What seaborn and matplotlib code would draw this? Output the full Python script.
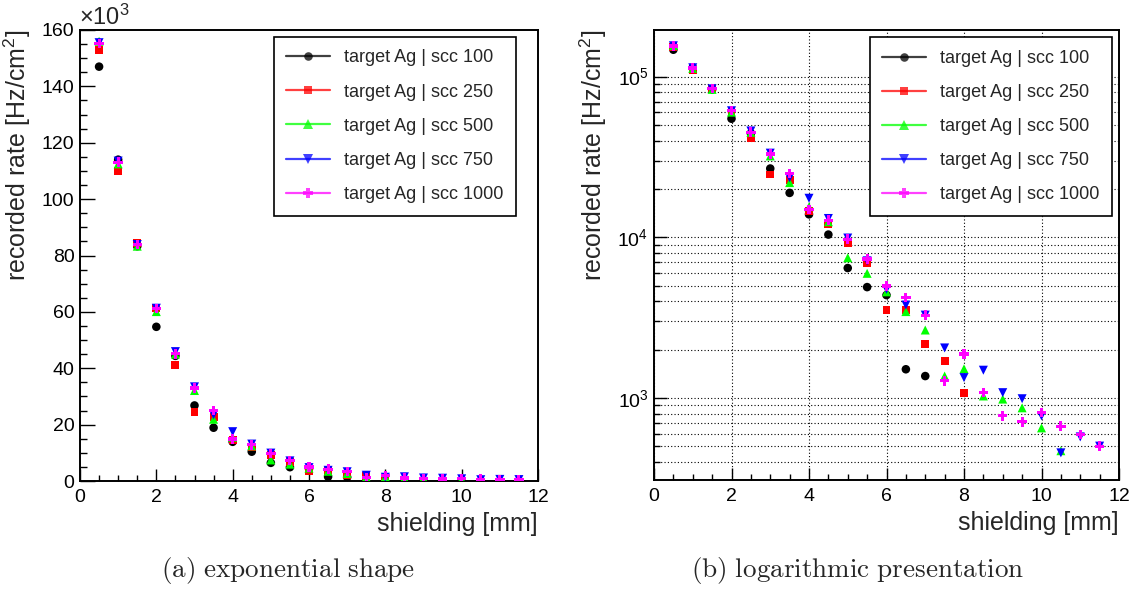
import numpy as np
import pandas as pd
import matplotlib
matplotlib.use("Agg")
import matplotlib.pyplot as plt
import matplotlib.ticker as mticker
from matplotlib.lines import Line2D
import seaborn as sns

# shielding thickness [mm]
shielding_mm = [0.5, 1.0, 1.5, 2.0, 2.5, 3.0, 3.5, 4.0, 4.5, 5.0, 5.5, 6.0,
                6.5, 7.0, 7.5, 8.0, 8.5, 9.0, 9.5, 10.0, 10.5, 11.0, 11.5]

# recorded rate [Hz/cm^2] per scc setting (series end where the rate was no longer measured)
rate_scc100 = [147000, 114000, 83300, 54700, 44400, 26800, 18900, 13900, 10400,
               6440, 4900, 4370, 1510, 1370]
rate_scc250 = [153000, 110000, 84300, 61300, 41200, 24600, 22700, 14600, 12100,
               9250, 6890, 3530, 3530, 2160, 1690, 1080]
rate_scc500 = [156000, 112500, 83300, 60100, 45000, 32100, 21900, 15500, 12500,
               7460, 5970, 4580, 3450, 2650, 1370, 1520, 1030, 985, 869, 652, 470]
rate_scc750 = [155500, 113500, 83900, 61300, 45900, 33400, 23500, 17500, 13100,
               9900, 7140, 4750, 3790, 3280, 2050, 1340, 1490, 1080, 990, 774,
               456, 573, 502]
rate_scc1000 = [155200, 113100, 84000, 61300, 45100, 33000, 25000, 14900, 12800,
                9750, 7330, 4980, 4210, 3280, 1280, 1880, 1080, 774, 711, 813,
                668, 593, 502]

series_labels = ["target Ag | scc 100", "target Ag | scc 250", "target Ag | scc 500",
                 "target Ag | scc 750", "target Ag | scc 1000"]
series_rates = [rate_scc100, rate_scc250, rate_scc500, rate_scc750, rate_scc1000]
series_colors = ["#000000", "#ff0000", "#00ff00", "#0000ff", "#ff00ff"]
series_markers = ["o", "s", "^", "v", "P"]
series_sizes = [38, 32, 42, 42, 46]

sns.set_style("white")
plt.rcParams["font.family"] = ["Liberation Sans", "DejaVu Sans"]
plt.rcParams["mathtext.default"] = "regular"

W, H = 1133, 590
fig = plt.figure(figsize=(W / 100, H / 100), dpi=100)
fig.patch.set_facecolor("white")


def px_axes(x0, y0, x1, y1):
    return fig.add_axes([x0 / W, 1 - y1 / H, (x1 - x0) / W, (y1 - y0) / H])


ax_lin = px_axes(80, 30, 538, 481)
ax_log = px_axes(654, 30, 1119, 480)

frames = []
for lab, rates in zip(series_labels, series_rates):
    frames.append(pd.DataFrame({"shielding": shielding_mm[:len(rates)],
                                "rate": rates, "series": lab}))
df = pd.concat(frames, ignore_index=True)


def draw_points(ax, scale=1.0):
    for lab, col, mk, sz in zip(series_labels, series_colors, series_markers, series_sizes):
        sub = df[df["series"] == lab]
        sns.scatterplot(x=sub["shielding"], y=sub["rate"] / scale, ax=ax, color=col,
                        marker=mk, s=sz, linewidth=0, edgecolor="none", legend=False,
                        zorder=3)


def add_legend(ax, anchor):
    handles = [Line2D([0], [0], color=c, lw=1.6, alpha=0.75, marker=m,
                      markersize=np.sqrt(s), markerfacecolor=c, markeredgecolor=c,
                      markeredgewidth=0)
               for c, m, s in zip(series_colors, series_markers, series_sizes)]
    leg = ax.legend(handles, series_labels, loc="upper right", bbox_to_anchor=anchor,
                    fontsize=13, frameon=True, fancybox=False, framealpha=1,
                    edgecolor="black", handlelength=2.4, handletextpad=0.8,
                    labelspacing=0.95, borderpad=0.7, borderaxespad=0)
    leg.get_frame().set_linewidth(1.2)
    return leg


def style_axes(ax, ylen_major, ylen_minor):
    for sp in ax.spines.values():
        sp.set_color("black")
        sp.set_linewidth(1.4)
    ax.tick_params(axis="both", which="both", direction="in", top=False, right=False,
                   left=True, bottom=True, color="black", width=1.0, labelsize=14,
                   labelcolor="black")
    ax.tick_params(axis="x", which="major", length=8.6, pad=6)
    ax.tick_params(axis="x", which="minor", length=4.3)
    ax.tick_params(axis="y", which="major", length=ylen_major, pad=4)
    ax.tick_params(axis="y", which="minor", length=ylen_minor)
    ax.set_xlim(0, 12)
    ax.xaxis.set_major_locator(mticker.MultipleLocator(2))
    ax.xaxis.set_minor_locator(mticker.MultipleLocator(0.5))
    ax.set_xlabel("shielding [mm]", loc="right", fontsize=18, labelpad=4)
    ax.set_ylabel("recorded rate [Hz/cm$^{2}$]", loc="top", fontsize=18, labelpad=6)


# (a) linear axis
draw_points(ax_lin, scale=1000.0)
style_axes(ax_lin, 10.8, 5.0)
ax_lin.set_ylim(0, 160)
ax_lin.yaxis.set_major_locator(mticker.MultipleLocator(20))
ax_lin.yaxis.set_minor_locator(mticker.MultipleLocator(5))
ax_lin.text(-0.002, 1.0, r"$\times10^{3}$", transform=ax_lin.transAxes, fontsize=17,
            ha="left", va="bottom")
add_legend(ax_lin, (0.952, 0.985))

# (b) logarithmic axis
draw_points(ax_log)
ax_log.set_yscale("log")
style_axes(ax_log, 9.4, 4.5)
ax_log.set_ylim(309, 195000)
ax_log.yaxis.set_major_locator(mticker.LogLocator(base=10))
ax_log.yaxis.set_minor_locator(mticker.LogLocator(base=10, subs=np.arange(2, 10)))
ax_log.yaxis.set_major_formatter(
    mticker.FuncFormatter(lambda v, p: r"$10^{%d}$" % round(np.log10(v))))
ax_log.yaxis.set_minor_formatter(mticker.NullFormatter())
ax_log.grid(True, which="both", axis="y", color="black", ls=(0, (1, 2)), lw=0.8)
ax_log.grid(True, which="major", axis="x", color="black", ls=(0, (1, 2)), lw=0.8)
ax_log.set_axisbelow(True)
add_legend(ax_log, (0.985, 0.984))

# sub-figure captions
fig.text(288 / W, 1 - 571 / H, r"$\mathrm{(a)\ exponential\ shape}$",
         math_fontfamily="cm", fontsize=19.5, ha="center", va="center")
fig.text(858 / W, 1 - 571 / H, r"$\mathrm{(b)\ logarithmic\ presentation}$",
         math_fontfamily="cm", fontsize=19.5, ha="center", va="center")

fig.savefig("out.png", dpi=100, facecolor="white")
